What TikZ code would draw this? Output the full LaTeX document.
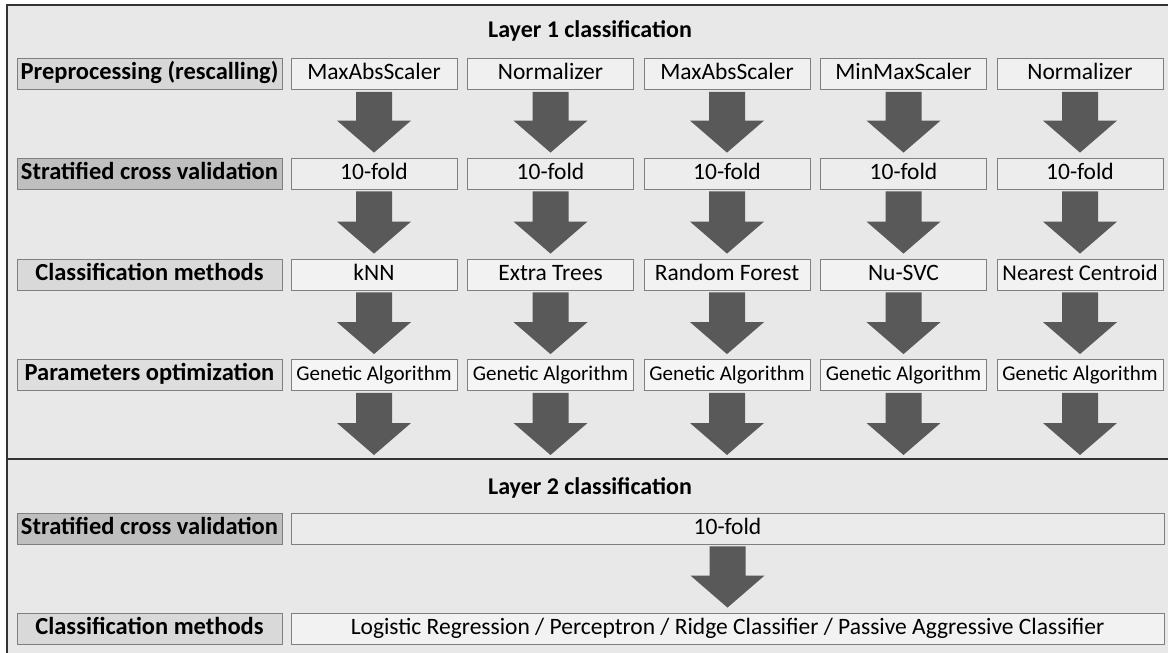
\documentclass[tikz,border=0pt]{standalone}
\usepackage{fontspec}
\setmainfont{Carlito}
\usepackage{tikz}
\usetikzlibrary{calc}

\definecolor{panel}{HTML}{E8E8E8}
\definecolor{frameline}{HTML}{333333}
\definecolor{boxline}{HTML}{7F7F7F}
\definecolor{arrowfill}{HTML}{595959}
\definecolor{labA}{HTML}{D7D7D7}
\definecolor{labB}{HTML}{BFBFBF}
\definecolor{labC}{HTML}{D9D9D9}
\definecolor{labD}{HTML}{DEDEDE}

% block arrow from one anchor down to another
\newcommand\blockarrow[2]{%
  \fill[arrowfill] let \p1=(#1), \p2=(#2) in
    (\x1-18pt,\y1-2pt) -- (\x1+18pt,\y1-2pt) -- (\x1+18pt,\y2+37pt)
    -- (\x1+37pt,\y2+37pt) -- (\x1,\y2+5pt) -- (\x1-37pt,\y2+37pt)
    -- (\x1-18pt,\y2+37pt) -- cycle;}

\begin{document}
\begin{tikzpicture}[x=1pt,y=-1pt,
    box/.style={draw=boxline,line width=0.8pt,minimum width=166pt,minimum height=31pt,
      inner sep=0pt,text height=16pt,text depth=5pt,font=\fontsize{23.5}{24}\selectfont},
    lab/.style={box,minimum width=265pt,font=\fontsize{24.5}{25}\selectfont\bfseries},
    title/.style={font=\fontsize{24}{25}\selectfont\bfseries}]
    \useasboundingbox (0,0) rectangle (1168,653);
    \fill[panel] (7,5) rectangle (1168,653);
    \draw[frameline,line width=1.2pt] (1168,5) -- (7,5) -- (7,653)
    (7,459) -- (1168,459);

    \node[title] (t1) at (590,31) {Layer 1 classification};
    \node[lab,fill=labA] (l1) at (149.5,74) {Preprocessing (rescalling)};
    \node[lab,fill=labB] (l2) at (149.5,173.5) {Stratified cross validation};
    \node[lab,fill=labC] (l3) at (149.5,274.5) {Classification methods};
    \node[lab,fill=labD] (l4) at (149.5,375) {Parameters optimization};

    \foreach \p/\m/\s [count=\i] in {MaxAbsScaler/kNN/23.5,Normalizer/Extra Trees/23.5,
      MaxAbsScaler/Random Forest/23.5,MinMaxScaler/Nu-SVC/23.5,Normalizer/Nearest Centroid/22.5}{
      \node[box,fill=black!6] (pre\i) at (374+176.5*\i-176.5,74) {\p};
      \node[box,fill=black!7] (cv\i) at (374+176.5*\i-176.5,173.5) {10-fold};
      \node[box,fill=black!5,font=\fontsize{\s}{24}\selectfont] (cm\i)
      at (374+176.5*\i-176.5,274.5) {\m};
      \node[box,fill=black!4,font=\fontsize{21}{22}\selectfont] (po\i)
      at (374+176.5*\i-176.5,375) {Genetic Algorithm};
      \coordinate (d\i) at (374+176.5*\i-176.5,460);
      \blockarrow{pre\i.south}{cv\i.north}
      \blockarrow{cv\i.south}{cm\i.north}
      \blockarrow{cm\i.south}{po\i.north}
      \blockarrow{po\i.south}{d\i}
    }

    \node[title] (t2) at (590,488) {Layer 2 classification};
    \node[lab,fill=labB] (m1) at (149.5,528.5) {Stratified cross validation};
    \node[lab,fill=labC] (m2) at (149.5,628.5) {Classification methods};
    \node[box,fill=black!8,minimum width=873pt] (cv6) at (727.5,528.5) {10-fold};
    \node[box,fill=black!5,minimum width=873pt] (cm6) at (727.5,628.5)
    {Logistic Regression / Perceptron / Ridge Classifier / Passive Aggressive Classifier};
    \blockarrow{cv6.south}{cm6.north}
  \end{tikzpicture}
\end{document}
